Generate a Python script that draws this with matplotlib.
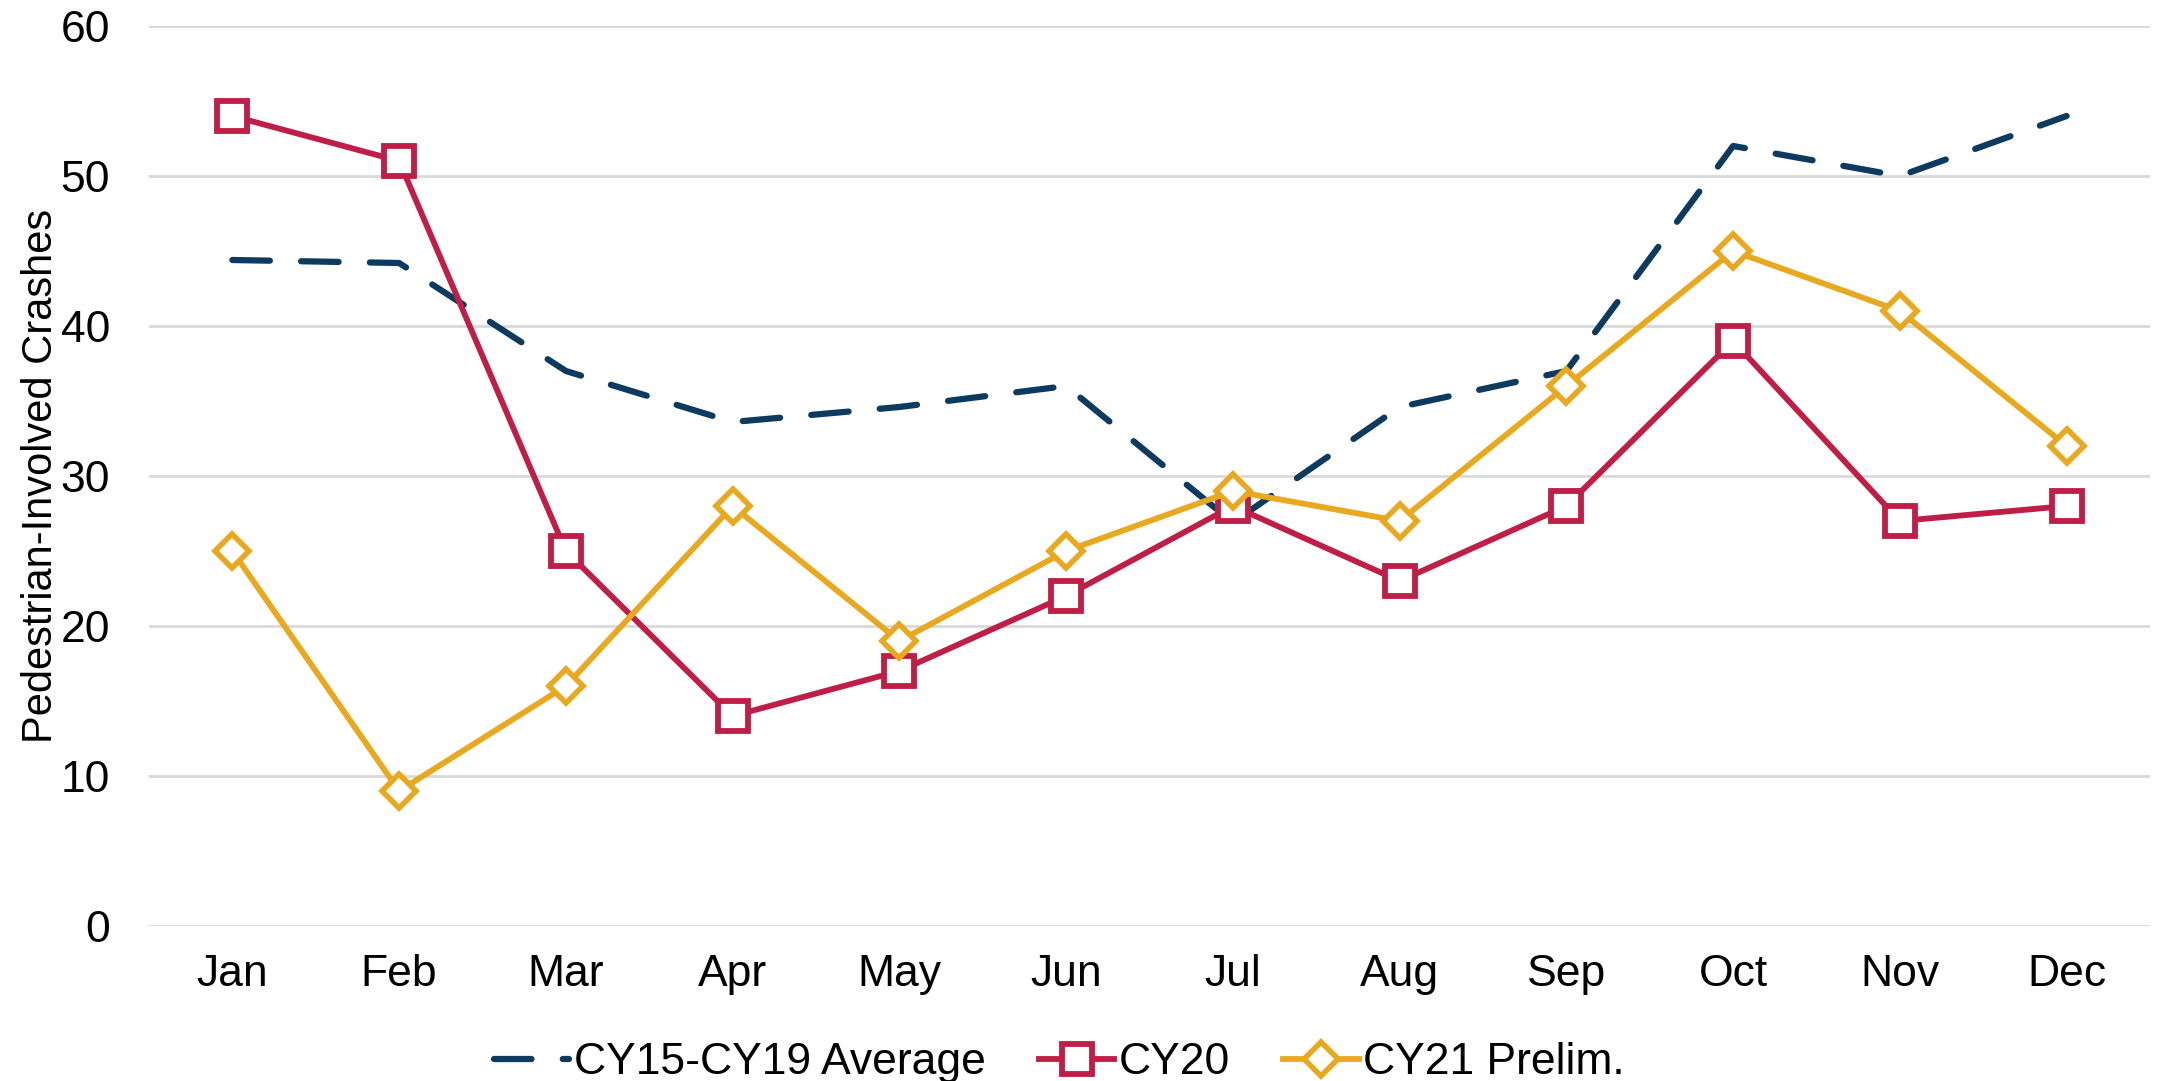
import matplotlib
matplotlib.use('Agg')
import matplotlib.pyplot as plt

plt.rcParams['font.family'] = ['Liberation Sans', 'DejaVu Sans']

months = ['Jan', 'Feb', 'Mar', 'Apr', 'May', 'Jun', 'Jul', 'Aug', 'Sep', 'Oct', 'Nov', 'Dec']
avg_15_19 = [44.4, 44.2, 37.0, 33.6, 34.6, 36.0, 26.9, 34.6, 37.0, 52.0, 50.0, 54.0]
cy20 = [54, 51, 25, 14, 17, 22, 28, 23, 28, 39, 27, 28]
cy21 = [25, 9, 16, 28, 19, 25, 29, 27, 36, 45, 41, 32]

navy = '#0D3A5F'
red = '#BF1E46'
gold = '#E8A920'

fig = plt.figure(figsize=(21.64, 10.81), dpi=100)
ax = fig.add_axes([149 / 2164, 1 - 926 / 1081, (2150 - 149) / 2164, 900 / 1081])

x = list(range(len(months)))
ax.plot(x, avg_15_19, color=navy, lw=4.5, dashes=(6, 5),
        dash_capstyle='round', solid_joinstyle='round', label='CY15-CY19 Average')
ax.plot(x, cy20, color=red, lw=4.2, marker='s', ms=21, mfc='white',
        mec=red, mew=4.2, label='CY20')
ax.plot(x, cy21, color=gold, lw=4.2, marker='D', ms=17, mfc='white',
        mec=gold, mew=4, label='CY21 Prelim.')

ax.set_xlim(-0.5, 11.5)
ax.set_ylim(0, 60)
ax.set_yticks(range(0, 61, 10))
ax.set_xticks(x)
ax.set_xticklabels(months)
ax.grid(axis='y', color='#d9d9d9', lw=2)
ax.set_axisbelow(True)
for s in ax.spines.values():
    s.set_visible(False)
ax.tick_params(axis='both', length=0, labelsize=32)
ax.tick_params(axis='x', pad=20)
ax.tick_params(axis='y', pad=28)
ax.set_ylabel('Pedestrian-Involved Crashes', fontsize=30, labelpad=0)

# legend sits a bit left of centre, as in the original
leg = ax.legend(loc='center', bbox_to_anchor=(0.455, -0.152), ncol=3,
                frameon=False, fontsize=32, handlelength=1.7,
                columnspacing=1.2, handletextpad=0.1)

fig.savefig('out.png', dpi=100)
